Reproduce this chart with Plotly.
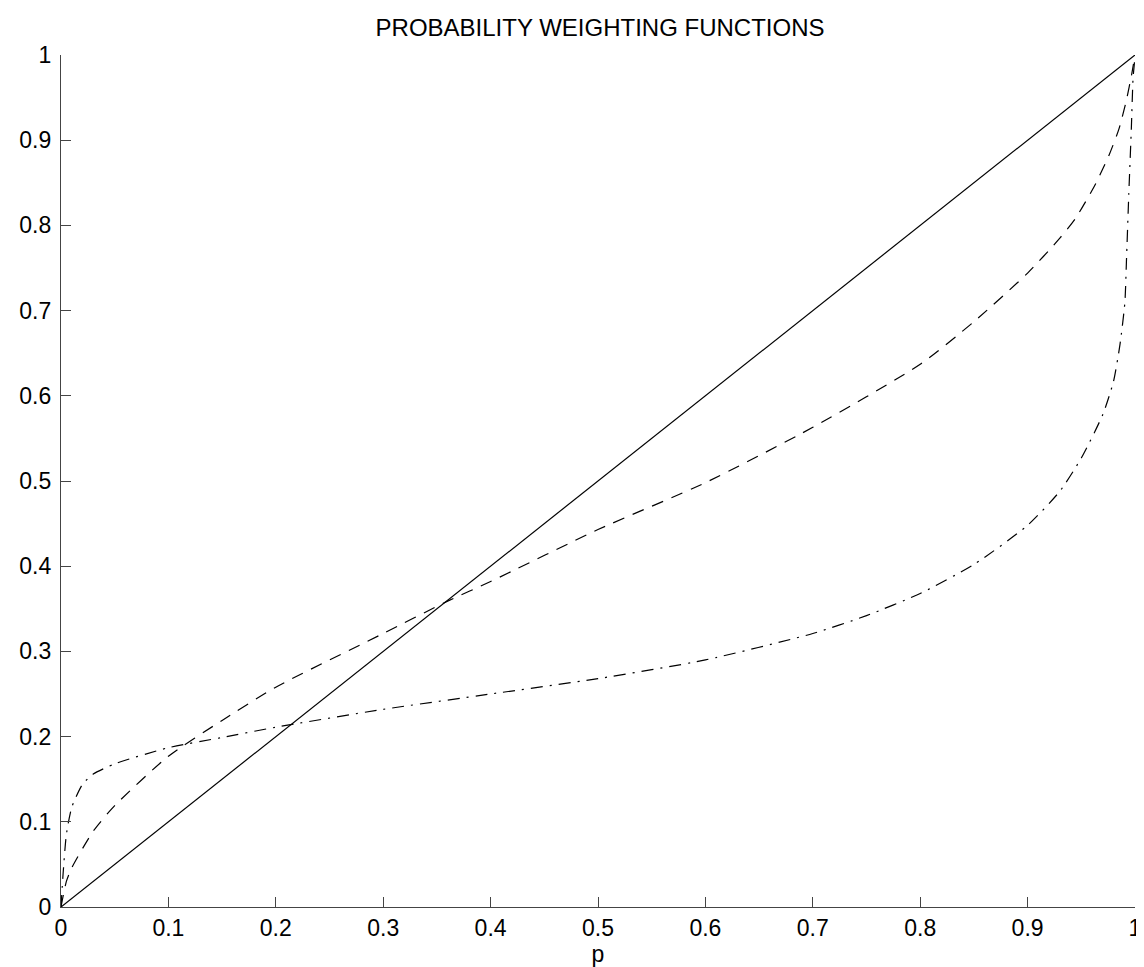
import plotly.graph_objects as go

# ---- data ----
p_linear = [0.0, 1.0]
w_linear = [0.0, 1.0]

p_dashed = [0.0, 0.005, 0.01, 0.03, 0.05, 0.1, 0.15, 0.2, 0.3, 0.36, 0.4, 0.5,
            0.6, 0.7, 0.8, 0.85, 0.9, 0.93, 0.945, 0.963, 0.976, 0.985, 0.992,
            0.997, 1.0]
w_dashed = [0.0, 0.03, 0.046, 0.089, 0.119, 0.177, 0.219, 0.258, 0.321, 0.359,
            0.382, 0.443, 0.498, 0.563, 0.637, 0.687, 0.744, 0.785, 0.809,
            0.848, 0.883, 0.913, 0.947, 0.978, 1.0]

p_dashdot = [0.0, 0.002, 0.005, 0.01, 0.02, 0.03, 0.05, 0.1, 0.15, 0.2, 0.3,
             0.4, 0.5, 0.6, 0.7, 0.75, 0.8, 0.85, 0.9, 0.93, 0.95, 0.97, 0.98,
             0.986, 0.9906, 0.992, 0.9942, 0.9966, 0.9982, 0.9994, 1.0]
w_dashdot = [0.0, 0.04, 0.085, 0.117, 0.144, 0.156, 0.168, 0.187, 0.199,
             0.211, 0.232, 0.250, 0.268, 0.290, 0.321, 0.342, 0.368, 0.402,
             0.448, 0.488, 0.527, 0.578, 0.617, 0.660, 0.710, 0.757, 0.836,
             0.914, 0.973, 0.990, 1.0]

tick_vals = [0, 0.1, 0.2, 0.3, 0.4, 0.5, 0.6, 0.7, 0.8, 0.9, 1]
tick_text = ["0", "0.1", "0.2", "0.3", "0.4", "0.5", "0.6", "0.7", "0.8", "0.9", "1"]

title_text = "PROBABILITY WEIGHTING FUNCTIONS"
x_title = "p"

FONT = "Liberation Sans, Arial, Helvetica, sans-serif"
AX = "#444444"

fig = go.Figure()
fig.add_trace(go.Scatter(x=p_linear, y=w_linear, mode="lines",
                         line=dict(color="black", width=1.2, dash="solid"),
                         showlegend=False, hoverinfo="skip"))
fig.add_trace(go.Scatter(x=p_dashed, y=w_dashed, mode="lines",
                         line=dict(color="black", width=1.2, dash="12px,9px",
                                   shape="spline", smoothing=0.6),
                         showlegend=False, hoverinfo="skip"))
fig.add_trace(go.Scatter(x=p_dashdot, y=w_dashdot, mode="lines",
                         line=dict(color="black", width=1.2, dash="12px,7px,2px,7px",
                                   shape="spline", smoothing=0.6),
                         showlegend=False, hoverinfo="skip"))

axis_common = dict(
    range=[0, 1], showgrid=False, zeroline=False,
    showline=True, linecolor=AX, linewidth=1.3,
    ticks="inside", ticklen=10, tickwidth=1.3, tickcolor=AX,
    tickvals=tick_vals, ticktext=tick_text,
    tickfont=dict(family=FONT, size=23, color="black"),
    mirror=False,
)

fig.update_layout(
    width=1144, height=967,
    margin=dict(l=51, r=11, t=47, b=68),
    paper_bgcolor="white", plot_bgcolor="white",
    title=dict(text=title_text, x=0.5175, xanchor="center",
               y=1 - 20 / 967, yanchor="middle", yref="container",
               font=dict(family=FONT, size=24, color="black")),
    xaxis=dict(**axis_common,
               title=dict(text=x_title, standoff=0,
                          font=dict(family=FONT, size=23, color="black"))),
    yaxis=dict(**axis_common, ticklabelstandoff=4),
)

fig.write_html("out.html")
